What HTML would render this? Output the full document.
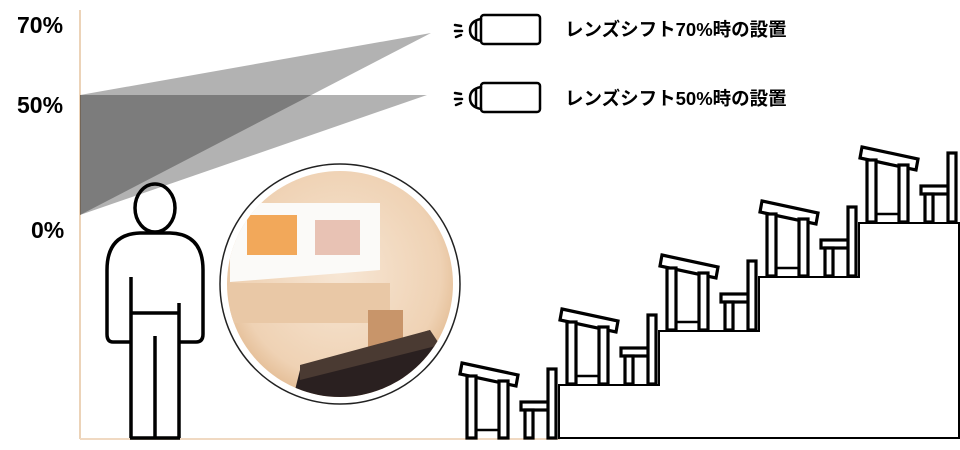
<!DOCTYPE html>
<html><head><meta charset="utf-8"><style>
html,body{margin:0;padding:0;background:#fff;}
svg{display:block;}
text{font-family:"Liberation Sans","Noto Sans CJK JP",sans-serif;}
</style></head><body>
<svg width="960" height="450" viewBox="0 0 960 450" xmlns="http://www.w3.org/2000/svg">
<defs>
<radialGradient id="room" cx="50%" cy="45%" r="60%">
<stop offset="0" stop-color="#f7e6d4"/><stop offset="0.7" stop-color="#efd2b4"/><stop offset="1" stop-color="#d9a978"/>
</radialGradient>
<clipPath id="cc"><circle cx="340" cy="284" r="113"/></clipPath>
<g id="unit" fill="#fff" stroke="#000" stroke-width="3.2">
<polygon points="462,363 518,375 516,386 460,374"/>
<rect x="467" y="376" width="9" height="62"/>
<rect x="499" y="381" width="9" height="57"/>
<line x1="476" y1="430" x2="499" y2="430" stroke-width="2.5"/>
<rect x="521" y="402" width="28" height="8"/>
<rect x="525" y="410" width="8" height="28"/>
<rect x="548" y="369" width="8" height="69"/>
</g>
</defs>
<line x1="80" y1="10" x2="80" y2="439" stroke="#ecd3b8" stroke-width="2"/>
<line x1="80" y1="439" x2="560" y2="439" stroke="#f0d9c2" stroke-width="2"/>
<polygon points="80,95 431,33 80,215" fill="#000" fill-opacity="0.3"/>
<polygon points="80,95 427,95 80,215" fill="#000" fill-opacity="0.3"/>
<text x="17" y="33" font-size="23" font-weight="bold">70%</text>
<text x="17" y="113" font-size="23" font-weight="bold">50%</text>
<text x="31" y="238" font-size="23" font-weight="bold">0%</text>
<g fill="none" stroke="#000" stroke-width="2.5" stroke-linecap="round">
<g>
<rect x="481" y="15" width="59" height="29" rx="3"/>
<path d="M481,19 Q470,21 470,30 Q470,39 481,41"/>
<line x1="476" y1="22" x2="476" y2="38"/>
<line x1="455" y1="25" x2="461" y2="26"/><line x1="455" y1="31" x2="462" y2="31"/><line x1="456" y1="37" x2="461" y2="35"/>
</g>
<g transform="translate(0,68)">
<rect x="481" y="15" width="59" height="29" rx="3"/>
<path d="M481,19 Q470,21 470,30 Q470,39 481,41"/>
<line x1="476" y1="22" x2="476" y2="38"/>
<line x1="455" y1="25" x2="461" y2="26"/><line x1="455" y1="31" x2="462" y2="31"/><line x1="456" y1="37" x2="461" y2="35"/>
</g>
</g>
<text x="565" y="36" font-size="18.5" font-weight="bold">レンズシフト70%時の設置</text>
<text x="565" y="105" font-size="18.5" font-weight="bold">レンズシフト50%時の設置</text>
<g fill="none" stroke="#000" stroke-width="3.5" stroke-linejoin="round">
<ellipse cx="155" cy="208" rx="20" ry="24"/>
<path d="M131,342 L113,342 Q107,342 107,334 L107,270 Q107,234 140,233 L170,233 Q203,234 203,270 L203,334 Q203,342 196,342 L179,342"/>
<line x1="131" y1="277" x2="131" y2="438"/>
<line x1="179" y1="303" x2="179" y2="438"/>
<line x1="131" y1="313" x2="179" y2="313"/>
<line x1="155" y1="336" x2="155" y2="438"/>
<line x1="130" y1="438" x2="180" y2="438"/>
</g>
<circle cx="340" cy="284" r="120" fill="#fff" stroke="#222" stroke-width="1.5"/>
<g clip-path="url(#cc)">
<rect x="220" y="160" width="240" height="250" fill="url(#room)"/>
<polygon points="230,203 380,203 380,270 230,282" fill="#fbfaf8"/>
<rect x="247" y="215" width="50" height="40" fill="#f2a85a"/>
<rect x="315" y="220" width="45" height="35" fill="#e8c2b4"/>
<rect x="230" y="283" width="160" height="40" fill="#e9c8a6"/>
<rect x="368" y="310" width="35" height="40" fill="#c8956a"/>
<polygon points="300,370 430,330 450,400 290,410" fill="#2a2020"/>
<polygon points="300,365 430,330 440,345 300,380" fill="#4a3a32"/>
</g>
<path d="M559,438 L559,385 L659,385 L659,331 L759,331 L759,277 L859,277 L859,223 L959,223 L959,438 Z" fill="#fff" stroke="#000" stroke-width="2"/>
<use href="#unit"/>
<use href="#unit" transform="translate(100,-54)"/>
<use href="#unit" transform="translate(200,-108)"/>
<use href="#unit" transform="translate(300,-162)"/>
<use href="#unit" transform="translate(400,-216)"/>
</svg>
</body></html>
